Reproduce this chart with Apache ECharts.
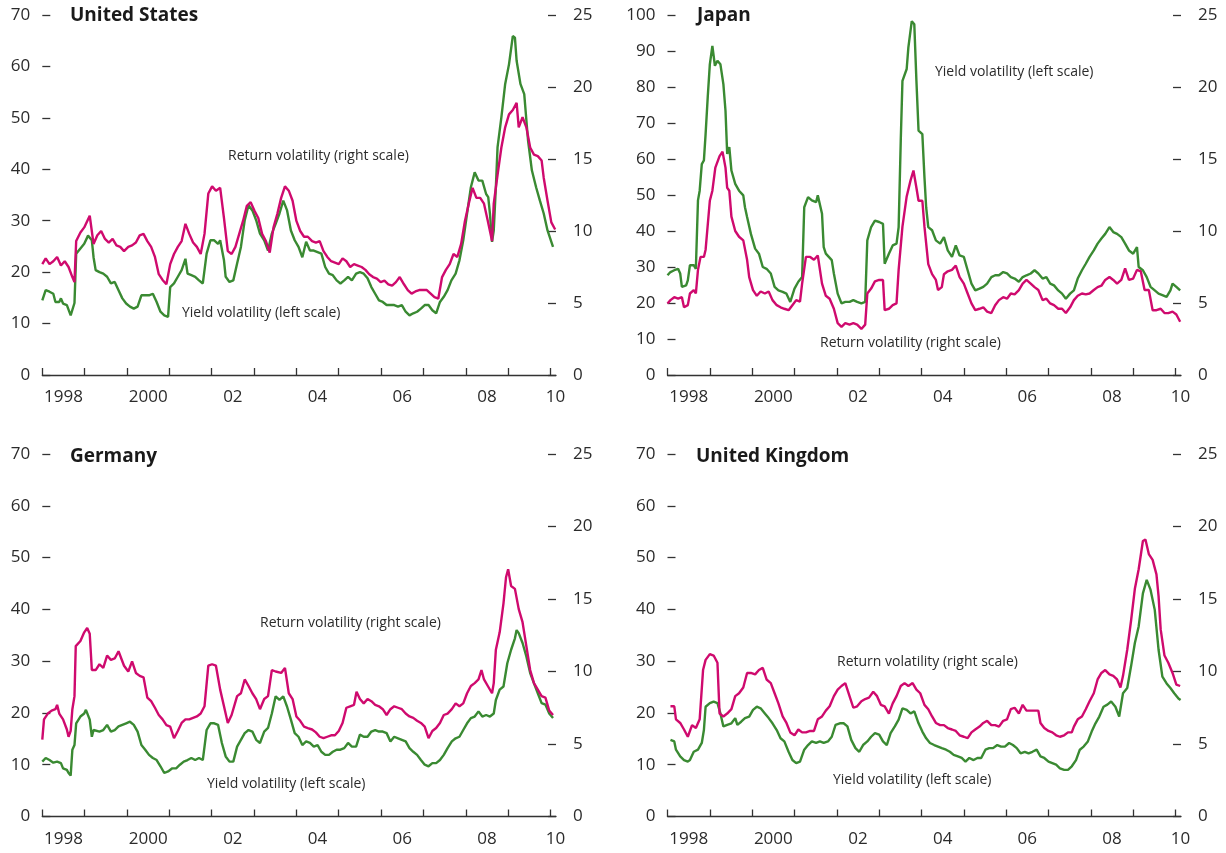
<!DOCTYPE html>
<html>
<head>
<meta charset="utf-8">
<script src="https://cdn.jsdelivr.net/npm/echarts@6/dist/echarts.min.js"></script>
<style>
  html, body { margin: 0; padding: 0; background: #ffffff; }
  #chart { width: 1226px; height: 853px; }
</style>
</head>
<body>
<div id="chart"></div>
<script>
// ---------------- DATA ----------------
const panelTitles = ['United States', 'Japan', 'Germany', 'United Kingdom'];
const returnLabel = 'Return volatility (right scale)';
const yieldLabel = 'Yield volatility (left scale)';

const xTickValues = [1998, 1999, 2000, 2001, 2002, 2003, 2004, 2005, 2006, 2007, 2008, 2009, 2010];
const xLabelValues = [1998.5, 2000.5, 2002.5, 2004.5, 2006.5, 2008.5, 2010.12];
const xLabelText = ['1998', '2000', '02', '04', '06', '08', '10'];

const leftMaxUS = 70, leftMaxJP = 100, leftMaxDE = 70, leftMaxUK = 70;
const rightMax = 25;

// United States
const usYield = [[1998.00,14.5],[1998.08,16.5],[1998.17,16.2],[1998.26,15.8],[1998.31,14.2],[1998.40,14.2],[1998.44,14.9],[1998.49,13.9],[1998.58,13.6],[1998.67,11.6],[1998.71,11.3],[1998.76,14.0],[1998.80,23.6],[1998.90,24.6],[1998.99,25.5],[1999.08,27.1],[1999.17,26.2],[1999.21,22.9],[1999.26,20.4],[1999.35,20.0],[1999.44,19.7],[1999.53,19.1],[1999.62,17.8],[1999.71,18.1],[1999.80,16.5],[1999.89,14.9],[1999.98,13.9],[2000.07,13.3],[2000.16,12.9],[2000.25,13.3],[2000.34,15.5],[2000.43,15.5],[2000.52,15.5],[2000.61,15.8],[2000.70,14.2],[2000.79,12.3],[2000.88,11.6],[2000.97,11.3],[2001.02,17.1],[2001.11,17.8],[2001.20,19.1],[2001.29,20.4],[2001.38,22.6],[2001.43,19.7],[2001.52,19.4],[2001.61,19.1],[2001.70,18.4],[2001.79,17.8],[2001.88,23.6],[2001.97,26.2],[2002.06,26.2],[2002.15,25.5],[2002.20,26.2],[2002.29,22.3],[2002.33,19.1],[2002.42,18.1],[2002.51,18.4],[2002.60,21.7],[2002.69,24.9],[2002.78,30.1],[2002.87,33.0],[2002.96,32.0],[2003.05,30.1],[2003.14,27.5],[2003.24,26.2],[2003.33,24.2],[2003.42,27.5],[2003.51,29.4],[2003.60,31.4],[2003.69,33.9],[2003.78,32.0],[2003.87,28.1],[2003.96,26.2],[2004.05,24.9],[2004.14,22.9],[2004.23,25.9],[2004.32,24.2],[2004.41,24.2],[2004.50,23.9],[2004.59,23.6],[2004.68,21.0],[2004.77,19.7],[2004.86,19.4],[2004.95,18.4],[2005.04,17.8],[2005.13,18.4],[2005.22,19.1],[2005.31,18.4],[2005.41,19.7],[2005.50,20.0],[2005.59,19.7],[2005.68,18.8],[2005.77,17.1],[2005.86,15.8],[2005.95,14.5],[2006.04,14.2],[2006.13,13.6],[2006.22,13.6],[2006.31,13.6],[2006.40,13.3],[2006.49,13.6],[2006.58,12.3],[2006.67,11.6],[2006.76,12.0],[2006.85,12.3],[2006.94,12.9],[2007.03,13.6],[2007.12,13.6],[2007.21,12.6],[2007.30,12.0],[2007.39,14.2],[2007.48,15.2],[2007.57,16.5],[2007.66,18.4],[2007.76,19.7],[2007.85,22.3],[2007.94,26.2],[2008.03,31.4],[2008.12,36.5],[2008.21,39.4],[2008.30,37.8],[2008.39,37.8],[2008.48,35.2],[2008.53,34.6],[2008.57,31.4],[2008.62,25.9],[2008.66,28.1],[2008.71,36.5],[2008.75,44.3],[2008.84,50.1],[2008.93,56.6],[2009.02,60.4],[2009.11,65.9],[2009.16,65.6],[2009.20,61.1],[2009.29,56.6],[2009.38,54.6],[2009.47,45.6],[2009.56,39.8],[2009.66,36.5],[2009.75,33.9],[2009.84,31.4],[2009.93,28.1],[2010.02,25.9],[2010.06,24.9]];
const usReturn = [[1998.00,7.7],[1998.08,8.1],[1998.17,7.7],[1998.26,7.9],[1998.35,8.2],[1998.44,7.6],[1998.53,7.9],[1998.62,7.5],[1998.71,6.8],[1998.76,6.45],[1998.80,9.3],[1998.90,9.9],[1998.99,10.25],[1999.12,11.06],[1999.21,9.1],[1999.30,9.7],[1999.39,10.0],[1999.48,9.45],[1999.57,9.2],[1999.66,9.45],[1999.75,9.0],[1999.84,8.9],[1999.93,8.6],[2000.03,8.9],[2000.12,9.0],[2000.21,9.2],[2000.30,9.7],[2000.39,9.8],[2000.48,9.3],[2000.57,8.9],[2000.66,8.2],[2000.75,7.0],[2000.84,6.6],[2000.93,6.3],[2001.02,7.7],[2001.11,8.4],[2001.20,8.9],[2001.29,9.3],[2001.38,10.5],[2001.47,9.8],[2001.56,9.2],[2001.65,8.9],[2001.74,8.4],[2001.83,9.8],[2001.92,12.6],[2002.01,13.1],[2002.10,12.8],[2002.20,13.0],[2002.29,10.9],[2002.38,8.6],[2002.47,8.4],[2002.56,8.9],[2002.65,9.8],[2002.74,10.7],[2002.83,11.75],[2002.92,12.0],[2003.01,11.4],[2003.10,10.9],[2003.19,9.8],[2003.28,9.3],[2003.37,8.5],[2003.46,10.25],[2003.55,11.2],[2003.64,12.3],[2003.73,13.1],[2003.82,12.8],[2003.91,12.1],[2004.00,10.7],[2004.09,10.0],[2004.18,9.6],[2004.27,9.6],[2004.37,9.3],[2004.46,9.2],[2004.55,9.3],[2004.64,8.6],[2004.73,8.2],[2004.82,7.9],[2004.91,7.8],[2005.00,7.7],[2005.09,8.1],[2005.18,7.9],[2005.27,7.5],[2005.36,7.7],[2005.45,7.6],[2005.54,7.5],[2005.63,7.3],[2005.72,7.0],[2005.81,6.8],[2005.90,6.7],[2005.99,6.45],[2006.08,6.55],[2006.17,6.3],[2006.26,6.2],[2006.35,6.45],[2006.44,6.8],[2006.54,6.3],[2006.63,5.9],[2006.72,5.65],[2006.81,5.8],[2006.90,5.9],[2006.99,5.9],[2007.08,5.9],[2007.17,5.65],[2007.26,5.4],[2007.35,5.3],[2007.44,6.8],[2007.53,7.3],[2007.62,7.7],[2007.71,8.4],[2007.80,8.2],[2007.89,9.1],[2007.98,10.7],[2008.07,11.9],[2008.16,13.0],[2008.25,12.3],[2008.34,12.3],[2008.43,11.9],[2008.52,10.7],[2008.62,9.3],[2008.66,11.9],[2008.75,13.9],[2008.84,15.8],[2008.93,17.2],[2009.02,18.1],[2009.11,18.4],[2009.20,18.9],[2009.25,17.2],[2009.34,17.9],[2009.43,17.2],[2009.52,15.8],[2009.61,15.3],[2009.70,15.2],[2009.79,14.9],[2009.84,13.7],[2009.93,12.1],[2010.02,10.6],[2010.11,10.1]];

// Japan
const jpYield = [[1998.00,27.7],[1998.07,28.6],[1998.16,29.1],[1998.25,29.5],[1998.30,28.2],[1998.34,24.5],[1998.44,24.9],[1998.48,26.3],[1998.53,30.5],[1998.62,30.5],[1998.67,29.5],[1998.72,48.5],[1998.76,51.2],[1998.81,58.6],[1998.86,59.6],[1998.90,66.9],[1998.95,77.1],[1999.00,86.3],[1999.06,91.4],[1999.12,85.9],[1999.18,87.3],[1999.25,86.3],[1999.32,80.8],[1999.37,73.4],[1999.41,61.4],[1999.46,63.3],[1999.51,56.8],[1999.60,53.1],[1999.69,51.2],[1999.79,49.9],[1999.83,46.6],[1999.88,43.9],[1999.97,39.2],[2000.07,35.1],[2000.16,33.7],[2000.25,30.0],[2000.34,29.5],[2000.44,28.2],[2000.53,24.5],[2000.62,23.5],[2000.72,23.1],[2000.81,22.6],[2000.90,20.3],[2001.00,24.0],[2001.09,25.9],[2001.18,27.2],[2001.23,46.6],[2001.32,49.4],[2001.41,48.5],[2001.51,48.0],[2001.55,49.9],[2001.65,44.8],[2001.69,35.5],[2001.74,33.7],[2001.88,31.9],[2001.93,28.2],[2002.02,22.6],[2002.11,19.9],[2002.20,20.3],[2002.30,20.3],[2002.39,20.8],[2002.48,20.3],[2002.58,19.9],[2002.67,20.3],[2002.72,37.4],[2002.81,41.1],[2002.90,42.9],[2003.00,42.5],[2003.09,42.0],[2003.13,30.9],[2003.23,33.7],[2003.32,36.0],[2003.41,36.5],[2003.46,41.1],[2003.51,65.1],[2003.55,81.7],[2003.65,85.0],[2003.69,91.0],[2003.77,98.3],[2003.83,97.4],[2003.88,81.7],[2003.93,67.9],[2004.02,66.9],[2004.07,54.9],[2004.11,46.6],[2004.16,41.1],[2004.25,40.2],[2004.34,37.4],[2004.44,36.5],[2004.53,38.3],[2004.62,34.6],[2004.72,32.8],[2004.81,36.0],[2004.90,33.2],[2005.00,32.8],[2005.09,29.1],[2005.18,25.4],[2005.27,23.5],[2005.37,24.0],[2005.46,24.5],[2005.55,25.4],[2005.65,27.2],[2005.74,27.7],[2005.83,27.7],[2005.93,28.6],[2006.02,28.2],[2006.11,27.2],[2006.20,26.8],[2006.30,25.9],[2006.39,27.2],[2006.48,27.7],[2006.58,28.2],[2006.67,29.1],[2006.76,28.2],[2006.86,26.8],[2006.95,27.2],[2007.04,25.4],[2007.13,24.9],[2007.23,23.5],[2007.32,22.6],[2007.41,21.2],[2007.51,22.6],[2007.60,23.5],[2007.69,26.8],[2007.79,29.1],[2007.88,30.9],[2007.97,32.8],[2008.07,34.6],[2008.16,36.5],[2008.25,37.9],[2008.34,39.2],[2008.44,41.1],[2008.53,39.7],[2008.62,39.2],[2008.72,38.3],[2008.81,36.5],[2008.90,34.6],[2009.00,33.7],[2009.09,35.5],[2009.13,30.0],[2009.23,29.1],[2009.32,27.2],[2009.41,24.5],[2009.51,23.5],[2009.60,22.6],[2009.69,22.2],[2009.79,21.7],[2009.88,23.5],[2009.93,25.4],[2010.02,24.5],[2010.11,23.5]];
const jpReturn = [[1998.00,4.97],[1998.07,5.2],[1998.16,5.4],[1998.25,5.3],[1998.34,5.4],[1998.39,4.7],[1998.48,4.85],[1998.53,5.66],[1998.62,5.9],[1998.67,5.66],[1998.72,7.3],[1998.78,8.2],[1998.86,8.2],[1998.90,8.7],[1999.00,12.1],[1999.06,12.8],[1999.13,14.4],[1999.23,15.2],[1999.30,15.5],[1999.37,14.4],[1999.41,13.0],[1999.46,12.8],[1999.51,11.0],[1999.60,10.0],[1999.69,9.6],[1999.79,9.35],[1999.88,8.0],[1999.93,6.8],[2000.02,5.9],[2000.11,5.5],[2000.20,5.8],[2000.30,5.66],[2000.39,5.8],[2000.48,5.2],[2000.58,4.85],[2000.67,4.7],[2000.76,4.6],[2000.86,4.5],[2000.95,4.85],[2001.04,5.2],[2001.13,5.1],[2001.18,6.35],[2001.27,8.2],[2001.37,8.2],[2001.46,8.0],[2001.55,8.3],[2001.65,6.35],[2001.74,5.5],[2001.83,5.3],[2001.93,4.6],[2002.02,3.6],[2002.11,3.35],[2002.20,3.6],[2002.30,3.5],[2002.39,3.6],[2002.48,3.5],[2002.58,3.2],[2002.67,3.5],[2002.72,5.66],[2002.81,6.0],[2002.90,6.5],[2003.00,6.6],[2003.09,6.6],[2003.13,4.5],[2003.23,4.6],[2003.32,4.85],[2003.41,4.97],[2003.46,7.3],[2003.55,10.3],[2003.65,12.4],[2003.74,13.5],[2003.81,14.2],[2003.88,13.0],[2003.93,12.1],[2004.02,12.1],[2004.07,10.3],[2004.16,7.7],[2004.25,7.0],[2004.34,6.6],[2004.39,5.9],[2004.48,6.1],[2004.53,7.0],[2004.62,7.2],[2004.72,7.3],[2004.81,7.6],[2004.90,6.8],[2005.00,6.35],[2005.09,5.66],[2005.18,4.97],[2005.27,4.5],[2005.37,4.6],[2005.46,4.7],[2005.55,4.4],[2005.65,4.3],[2005.74,4.85],[2005.83,5.2],[2005.93,5.4],[2006.02,5.3],[2006.11,5.66],[2006.20,5.6],[2006.30,5.9],[2006.39,6.35],[2006.48,6.6],[2006.58,6.35],[2006.67,6.1],[2006.76,5.9],[2006.86,5.2],[2006.95,5.3],[2007.04,4.97],[2007.13,4.85],[2007.23,4.6],[2007.32,4.6],[2007.41,4.3],[2007.51,4.7],[2007.60,5.2],[2007.69,5.5],[2007.79,5.66],[2007.88,5.6],[2007.97,5.66],[2008.07,5.9],[2008.16,6.1],[2008.25,6.2],[2008.34,6.6],[2008.44,6.8],[2008.53,6.6],[2008.62,6.35],[2008.72,6.6],[2008.81,7.4],[2008.90,6.6],[2009.00,6.7],[2009.09,7.3],[2009.18,7.2],[2009.27,5.9],[2009.37,5.9],[2009.46,4.5],[2009.55,4.5],[2009.65,4.6],[2009.74,4.3],[2009.83,4.3],[2009.93,4.4],[2010.02,4.2],[2010.11,3.7]];

// Germany
const deYield = [[1998.00,10.6],[1998.08,11.3],[1998.17,10.9],[1998.26,10.4],[1998.35,10.6],[1998.44,10.3],[1998.49,9.3],[1998.58,9.0],[1998.62,8.4],[1998.67,7.9],[1998.71,12.9],[1998.76,13.8],[1998.80,18.0],[1998.90,19.3],[1998.99,19.9],[1999.03,20.6],[1999.12,18.7],[1999.17,15.4],[1999.21,16.7],[1999.35,16.4],[1999.44,16.7],[1999.53,17.7],[1999.62,16.4],[1999.71,16.7],[1999.80,17.4],[1999.89,17.7],[1999.98,18.0],[2000.07,18.3],[2000.16,17.7],[2000.25,16.4],[2000.34,13.8],[2000.43,12.9],[2000.52,11.9],[2000.61,11.3],[2000.70,10.9],[2000.79,9.7],[2000.88,8.4],[2000.97,8.7],[2001.07,9.3],[2001.16,9.3],[2001.25,10.0],[2001.34,10.6],[2001.43,10.9],[2001.52,11.3],[2001.61,10.9],[2001.70,11.3],[2001.79,10.9],[2001.88,16.7],[2001.97,18.0],[2002.06,18.0],[2002.15,17.7],[2002.24,14.2],[2002.33,11.6],[2002.42,10.6],[2002.51,10.6],[2002.60,13.5],[2002.69,14.8],[2002.78,16.1],[2002.87,16.7],[2002.96,16.4],[2003.05,14.8],[2003.14,14.2],[2003.24,16.4],[2003.33,17.1],[2003.42,19.9],[2003.51,23.2],[2003.60,22.5],[2003.69,23.2],[2003.78,21.2],[2003.87,18.7],[2003.96,16.1],[2004.05,15.4],[2004.14,13.8],[2004.23,14.5],[2004.32,14.2],[2004.41,13.5],[2004.50,13.8],[2004.59,12.5],[2004.68,11.9],[2004.77,11.9],[2004.86,12.5],[2004.95,12.9],[2005.04,12.9],[2005.13,13.2],[2005.22,14.2],[2005.31,13.5],[2005.41,13.5],[2005.50,15.8],[2005.59,15.4],[2005.68,15.4],[2005.77,16.4],[2005.86,16.7],[2005.95,16.4],[2006.04,16.4],[2006.13,16.1],[2006.22,14.5],[2006.31,15.4],[2006.40,15.1],[2006.49,14.8],[2006.58,14.5],[2006.67,13.2],[2006.76,12.5],[2006.85,11.9],[2006.94,10.9],[2007.03,10.0],[2007.12,9.7],[2007.21,10.3],[2007.30,10.3],[2007.39,10.9],[2007.48,11.9],[2007.57,13.2],[2007.67,14.5],[2007.76,15.1],[2007.85,15.4],[2007.94,16.7],[2008.03,18.0],[2008.12,19.0],[2008.21,19.3],[2008.30,20.3],[2008.39,19.3],[2008.48,19.6],[2008.57,19.3],[2008.66,19.9],[2008.71,22.5],[2008.80,24.5],[2008.89,25.1],[2008.98,29.6],[2009.07,32.2],[2009.11,32.5],[2009.16,34.4],[2009.20,36.0],[2009.25,35.4],[2009.34,33.5],[2009.43,30.9],[2009.52,27.7],[2009.61,25.7],[2009.70,23.8],[2009.79,21.9],[2009.88,21.6],[2009.97,19.9],[2010.06,19.0]];
const deReturn = [[1998.00,5.3],[1998.04,6.7],[1998.13,7.1],[1998.22,7.3],[1998.31,7.4],[1998.35,7.7],[1998.40,7.1],[1998.49,6.7],[1998.58,6.0],[1998.62,5.5],[1998.67,5.9],[1998.71,7.4],[1998.76,8.3],[1998.79,11.75],[1998.90,12.1],[1998.99,12.7],[1999.06,13.0],[1999.12,12.6],[1999.17,10.1],[1999.26,10.1],[1999.35,10.5],[1999.44,10.25],[1999.53,11.1],[1999.62,10.8],[1999.71,10.9],[1999.80,11.4],[1999.84,11.3],[1999.93,10.4],[2000.03,10.0],[2000.12,10.7],[2000.21,9.9],[2000.30,9.7],[2000.39,9.6],[2000.48,8.2],[2000.57,7.95],[2000.66,7.5],[2000.75,7.0],[2000.84,6.7],[2000.93,6.3],[2001.02,6.2],[2001.11,5.4],[2001.20,5.9],[2001.29,6.45],[2001.38,6.7],[2001.47,6.7],[2001.56,6.8],[2001.65,6.9],[2001.74,7.1],[2001.83,7.6],[2001.92,10.4],[2002.01,10.5],[2002.10,10.4],[2002.20,8.75],[2002.29,7.6],[2002.38,6.45],[2002.47,7.0],[2002.60,8.3],[2002.69,8.5],[2002.78,9.45],[2002.87,9.0],[2002.96,8.5],[2003.05,8.1],[2003.14,7.4],[2003.24,8.1],[2003.33,8.3],[2003.42,10.1],[2003.51,10.0],[2003.64,9.9],[2003.73,10.25],[2003.82,8.5],[2003.91,8.1],[2004.00,6.9],[2004.09,6.6],[2004.18,6.2],[2004.27,6.1],[2004.37,6.0],[2004.46,5.8],[2004.55,5.5],[2004.64,5.4],[2004.73,5.5],[2004.82,5.6],[2004.91,5.6],[2005.00,5.9],[2005.09,6.45],[2005.18,7.5],[2005.27,7.6],[2005.36,7.7],[2005.42,8.6],[2005.50,8.1],[2005.59,7.8],[2005.68,8.1],[2005.77,7.95],[2005.86,7.7],[2005.95,7.6],[2006.04,7.4],[2006.13,7.0],[2006.22,7.4],[2006.31,7.6],[2006.40,7.5],[2006.49,7.4],[2006.58,7.1],[2006.67,6.9],[2006.76,6.8],[2006.85,6.6],[2006.94,6.45],[2007.03,6.2],[2007.12,5.4],[2007.21,5.9],[2007.30,6.1],[2007.39,6.45],[2007.48,7.0],[2007.57,7.1],[2007.67,7.4],[2007.76,7.8],[2007.85,7.6],[2007.94,7.8],[2008.03,8.5],[2008.12,9.0],[2008.21,9.2],[2008.30,9.45],[2008.37,10.1],[2008.43,9.45],[2008.52,9.0],[2008.62,8.5],[2008.66,9.2],[2008.71,11.5],[2008.80,12.7],[2008.89,14.7],[2008.95,16.5],[2009.00,17.05],[2009.07,15.9],[2009.11,16.0],[2009.16,15.7],[2009.25,14.3],[2009.34,13.4],[2009.43,11.75],[2009.52,10.1],[2009.61,9.2],[2009.70,8.75],[2009.79,8.3],[2009.88,8.2],[2009.97,7.3],[2010.06,7.0]];

// United Kingdom
const ukYield = [[1998.07,14.8],[1998.16,14.5],[1998.20,12.9],[1998.30,11.6],[1998.39,10.9],[1998.48,10.6],[1998.53,10.9],[1998.62,12.5],[1998.72,12.9],[1998.81,14.2],[1998.86,16.7],[1998.90,21.2],[1999.00,21.9],[1999.09,22.2],[1999.18,21.9],[1999.25,19.9],[1999.32,17.4],[1999.41,17.7],[1999.51,18.0],[1999.60,19.0],[1999.65,17.7],[1999.74,18.3],[1999.83,19.0],[1999.93,19.3],[2000.02,20.6],[2000.11,21.2],[2000.20,20.9],[2000.30,19.9],[2000.39,19.0],[2000.48,18.0],[2000.58,16.7],[2000.67,15.1],[2000.76,14.5],[2000.86,12.5],[2000.95,10.9],[2001.04,10.3],[2001.13,10.6],[2001.23,12.9],[2001.32,13.8],[2001.41,14.5],[2001.51,14.2],[2001.60,14.5],[2001.69,14.2],[2001.79,14.5],[2001.88,15.4],[2001.97,17.7],[2002.07,18.0],[2002.16,18.0],[2002.25,17.4],[2002.34,14.8],[2002.44,13.2],[2002.53,12.5],[2002.62,13.8],[2002.72,14.5],[2002.81,15.4],[2002.90,16.1],[2003.00,15.8],[2003.09,14.5],[2003.18,13.8],[2003.27,16.1],[2003.37,17.4],[2003.46,18.7],[2003.55,20.9],[2003.65,20.6],[2003.74,19.9],[2003.83,20.3],[2003.93,18.0],[2004.02,16.4],[2004.11,15.1],[2004.20,14.2],[2004.30,13.8],[2004.39,13.5],[2004.48,13.2],[2004.58,12.9],[2004.67,12.5],[2004.76,11.9],[2004.86,11.6],[2004.95,11.3],[2005.04,10.6],[2005.13,11.3],[2005.23,10.9],[2005.32,11.3],[2005.41,11.3],[2005.51,12.9],[2005.60,13.2],[2005.69,13.2],[2005.79,13.8],[2005.88,13.5],[2005.97,13.5],[2006.07,14.2],[2006.16,13.8],[2006.25,13.2],[2006.34,12.2],[2006.44,12.5],[2006.53,12.2],[2006.62,12.5],[2006.72,12.9],[2006.81,11.6],[2006.90,11.3],[2007.00,10.6],[2007.09,10.3],[2007.18,10.0],[2007.27,9.3],[2007.37,9.0],[2007.46,9.0],[2007.55,9.7],[2007.65,10.9],[2007.74,12.9],[2007.83,13.5],[2007.93,14.5],[2008.02,16.4],[2008.11,18.0],[2008.20,19.3],[2008.30,21.2],[2008.39,21.6],[2008.48,22.2],[2008.58,21.2],[2008.67,19.3],[2008.76,23.8],[2008.86,24.8],[2008.95,29.0],[2009.04,33.5],[2009.13,36.7],[2009.23,43.1],[2009.32,45.7],[2009.41,43.8],[2009.51,39.9],[2009.60,32.2],[2009.69,27.0],[2009.79,25.7],[2009.88,24.8],[2009.97,23.8],[2010.07,22.8],[2010.12,22.5]];
const ukReturn = [[1998.07,7.6],[1998.16,7.6],[1998.20,6.7],[1998.30,6.45],[1998.39,6.0],[1998.48,5.5],[1998.58,6.3],[1998.67,6.1],[1998.76,6.7],[1998.84,10.1],[1998.90,10.8],[1999.00,11.2],[1999.09,11.1],[1999.18,10.6],[1999.23,7.1],[1999.32,6.9],[1999.41,7.1],[1999.51,7.4],[1999.60,8.3],[1999.69,8.5],[1999.79,8.9],[1999.88,9.9],[1999.97,9.9],[2000.07,9.8],[2000.16,10.1],[2000.25,10.25],[2000.34,9.45],[2000.44,9.2],[2000.53,8.5],[2000.62,7.8],[2000.72,6.9],[2000.81,6.45],[2000.90,5.8],[2001.00,5.6],[2001.09,6.0],[2001.18,5.8],[2001.27,5.8],[2001.37,5.9],[2001.46,5.9],[2001.55,6.7],[2001.65,6.9],[2001.74,7.3],[2001.83,7.6],[2001.93,8.3],[2002.02,8.75],[2002.11,9.0],[2002.20,9.2],[2002.30,8.3],[2002.39,7.5],[2002.48,7.6],[2002.58,7.95],[2002.67,8.1],[2002.76,8.2],[2002.86,8.6],[2002.95,8.3],[2003.04,7.7],[2003.13,7.6],[2003.23,7.1],[2003.32,7.8],[2003.41,8.3],[2003.51,9.0],[2003.60,9.2],[2003.69,9.0],[2003.79,9.2],[2003.88,8.75],[2003.97,8.5],[2004.07,7.7],[2004.16,7.4],[2004.25,6.9],[2004.34,6.45],[2004.44,6.3],[2004.53,6.3],[2004.62,6.1],[2004.72,6.0],[2004.81,5.9],[2004.90,5.6],[2005.00,5.5],[2005.09,5.4],[2005.18,5.8],[2005.27,6.0],[2005.37,6.2],[2005.46,6.45],[2005.55,6.6],[2005.65,6.3],[2005.74,6.3],[2005.83,6.2],[2005.93,6.6],[2006.02,6.7],[2006.11,7.4],[2006.20,7.5],[2006.30,7.1],[2006.39,7.7],[2006.48,7.3],[2006.58,7.3],[2006.67,7.3],[2006.76,7.3],[2006.81,6.45],[2006.90,6.1],[2007.00,5.9],[2007.09,5.8],[2007.18,5.6],[2007.27,5.5],[2007.37,5.6],[2007.46,5.8],[2007.55,5.8],[2007.60,6.2],[2007.69,6.7],[2007.79,6.9],[2007.88,7.4],[2007.97,7.95],[2008.07,8.5],[2008.16,9.45],[2008.25,9.9],[2008.34,10.1],[2008.44,9.8],[2008.53,9.7],[2008.62,9.45],[2008.70,8.9],[2008.76,9.7],[2008.86,11.5],[2008.95,13.5],[2009.04,15.7],[2009.13,17.05],[2009.23,19.0],[2009.29,19.1],[2009.37,18.1],[2009.46,17.7],[2009.55,16.7],[2009.60,15.2],[2009.65,12.9],[2009.74,11.1],[2009.83,10.6],[2009.93,9.9],[2010.02,9.1],[2010.11,9.0]];

// ---------------- LAYOUT / STYLE ----------------
const FONT = '"Open Sans", "Noto Sans", "DejaVu Sans", sans-serif';
const TEXT = '#2b2b2b';
const GREEN = '#3a8a32';
const MAGENTA = '#cf0a6e';
const X_MIN = 1998, X_MAX = 2010.13;

const layout = [
  { left: 42.3, top: 15, width: 513.7, height: 360 },
  { left: 667.5, top: 15, width: 513.5, height: 360 },
  { left: 42.3, top: 454, width: 513.7, height: 362.5 },
  { left: 667.5, top: 454, width: 513.5, height: 362.5 }
];
const titlePos = [[70, 15], [697, 15], [70, 456], [696, 456]];
const returnPos = [[228, 156], [820, 343], [260, 623], [837, 662]];
const yieldPos = [[182, 313], [935, 72], [207, 784], [833, 780]];

const yieldSeries = [usYield, jpYield, deYield, ukYield];
const returnSeries = [usReturn, jpReturn, deReturn, ukReturn];
const leftMax = [leftMaxUS, leftMaxJP, leftMaxDE, leftMaxUK];

function xLabel(v) {
  let best = 0, bd = Infinity;
  xLabelValues.forEach((lv, i) => { const d = Math.abs(lv - v); if (d < bd) { bd = d; best = i; } });
  return bd < 0.05 ? xLabelText[best] : '';
}

const grids = [], xAxes = [], yAxes = [], series = [], graphics = [];
layout.forEach((g, i) => {
  grids.push({ left: g.left, top: g.top, width: g.width, height: g.height, containLabel: false });
  xAxes.push({
    type: 'value', gridIndex: i, min: X_MIN, max: X_MAX,
    axisLine: { show: true, onZero: false, lineStyle: { color: '#333', width: 1.3 } },
    axisTick: { show: true, inside: true, length: 7, customValues: xTickValues, lineStyle: { color: '#333', width: 1.3 } },
    axisLabel: { show: true, customValues: xLabelValues, formatter: xLabel, margin: 14, fontSize: 17, color: TEXT, fontFamily: FONT, showMinLabel: true, showMaxLabel: true },
    splitLine: { show: false }
  });
  yAxes.push({
    type: 'value', gridIndex: i, position: 'left', min: 0, max: leftMax[i], interval: 10,
    axisLine: { show: false },
    axisTick: { show: true, inside: true, length: 8, lineStyle: { color: '#333', width: 1.3 } },
    axisLabel: { margin: 12, fontSize: 17, color: TEXT, fontFamily: FONT },
    splitLine: { show: false }
  });
  yAxes.push({
    type: 'value', gridIndex: i, position: 'right', min: 0, max: rightMax, interval: 5,
    axisLine: { show: false },
    axisTick: { show: true, inside: true, length: 8, lineStyle: { color: '#333', width: 1.3 } },
    axisLabel: { margin: 17, fontSize: 17, color: TEXT, fontFamily: FONT },
    splitLine: { show: false }
  });
  series.push({
    type: 'line', name: yieldLabel, xAxisIndex: i, yAxisIndex: 2 * i, data: yieldSeries[i],
    showSymbol: false, symbol: 'none', lineStyle: { color: GREEN, width: 2.4 }, z: 2
  });
  series.push({
    type: 'line', name: returnLabel, xAxisIndex: i, yAxisIndex: 2 * i + 1, data: returnSeries[i],
    showSymbol: false, symbol: 'none', lineStyle: { color: MAGENTA, width: 2.4 }, z: 3
  });
  graphics.push({
    type: 'text', left: titlePos[i][0], top: titlePos[i][1] - 9,
    style: { text: panelTitles[i], font: 'bold 19px ' + FONT, fill: '#1a1a1a' }
  });
  graphics.push({
    type: 'text', left: returnPos[i][0], top: returnPos[i][1] - 7,
    style: { text: returnLabel, font: '14px ' + FONT, fill: TEXT }
  });
  graphics.push({
    type: 'text', left: yieldPos[i][0], top: yieldPos[i][1] - 7,
    style: { text: yieldLabel, font: '14px ' + FONT, fill: TEXT }
  });
});

const chart = echarts.init(document.getElementById('chart'), null, { renderer: 'canvas' });
chart.setOption({
  animation: false,
  backgroundColor: '#ffffff',
  grid: grids,
  xAxis: xAxes,
  yAxis: yAxes,
  series: series,
  graphic: graphics
});
</script>
</body>
</html>
